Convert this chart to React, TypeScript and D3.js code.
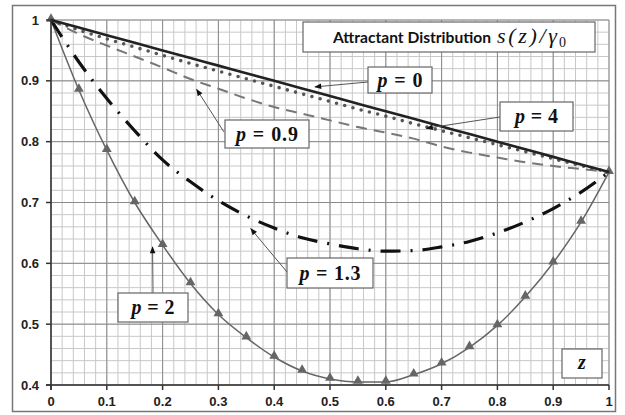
import React from "react";
import * as d3 from "d3";

// ---- data ----
const Z = [0, 0.05, 0.1, 0.15, 0.2, 0.25, 0.3, 0.35, 0.4, 0.45, 0.5, 0.55, 0.6, 0.65, 0.7, 0.75, 0.8, 0.85, 0.9, 0.95, 1];
const P0 = [1, 0.9875, 0.975, 0.9625, 0.95, 0.9375, 0.925, 0.9125, 0.9, 0.8875, 0.875, 0.8625, 0.85, 0.8375, 0.825, 0.8125, 0.8, 0.7875, 0.775, 0.7625, 0.75];
const P4 = [1, 0.9835, 0.969, 0.9555, 0.942, 0.9285, 0.916, 0.9035, 0.891, 0.8785, 0.866, 0.8535, 0.842, 0.8295, 0.818, 0.8065, 0.795, 0.7835, 0.772, 0.7605, 0.75];
const P09 = [1, 0.977, 0.958, 0.94, 0.922, 0.903, 0.887, 0.871, 0.857, 0.846, 0.835, 0.824, 0.815, 0.805, 0.792, 0.782, 0.774, 0.766, 0.76, 0.755, 0.75];
const P13 = [1, 0.931, 0.871, 0.818, 0.77, 0.734, 0.703, 0.678, 0.658, 0.642, 0.632, 0.624, 0.62, 0.621, 0.627, 0.636, 0.65, 0.668, 0.69, 0.717, 0.75];
const P2 = [1, 0.885, 0.786, 0.7, 0.63, 0.567, 0.516, 0.478, 0.446, 0.423, 0.41, 0.405, 0.405, 0.417, 0.435, 0.462, 0.498, 0.545, 0.601, 0.668, 0.75];

const X_TICKS = [0, 0.1, 0.2, 0.3, 0.4, 0.5, 0.6, 0.7, 0.8, 0.9, 1];
const Y_TICKS = [0.4, 0.5, 0.6, 0.7, 0.8, 0.9, 1];
const X_LABELS = ["0", "0.1", "0.2", "0.3", "0.4", "0.5", "0.6", "0.7", "0.8", "0.9", "1"];
const Y_LABELS = ["0.4", "0.5", "0.6", "0.7", "0.8", "0.9", "1"];

const LABELS = ["0", "4", "0.9", "1.3", "2"];
// arrow tips in data coordinates [z, s]
const TIPS: [number, number][] = [
  [0.473, 0.89],
  [0.673, 0.822],
  [0.261, 0.886],
  [0.358, 0.657],
  [0.182, 0.627],
];

// ---- layout ----
const W = 625, H = 415;
const X0 = 51, X1 = 609, Y0 = 385, Y1 = 20;
const BOXES = [
  { x: 368, y: 67, w: 64, h: 26, from: [368, 82], tl: 45 },
  { x: 500, y: 102, w: 73, h: 29, from: [500, 117], tl: 43 },
  { x: 225, y: 120, w: 84, h: 28, from: [224, 132], tl: 62 },
  { x: 287, y: 258, w: 86, h: 30, from: [287, 272], tl: 61 },
  { x: 118, y: 293, w: 70, h: 29, from: [153, 293], tl: 43 },
];

export default function App() {
  const x = d3.scaleLinear().domain([0, 1]).range([X0, X1]);
  const y = d3.scaleLinear().domain([0.4, 1]).range([Y0, Y1]);
  const minorX = d3.range(0, 1.0001, 0.02);
  const minorY = d3.range(0.4, 1.0001, 0.02);

  const line = (vals: number[]) =>
    d3
      .line<number>()
      .x((_, i) => x(Z[i]))
      .y((d) => y(d))
      .curve(d3.curveMonotoneX)(vals) as string;

  const tri = d3.symbol().type(d3.symbolTriangle).size(42)() as string;
  const serif = "'Liberation Serif', 'DejaVu Serif', serif";
  const sans = "'Liberation Sans', Arial, sans-serif";

  return (
    <svg width={W} height={H} style={{ position: "absolute", left: 0, top: 0, background: "#fff" }}>
      <defs>
        <marker id="ah" viewBox="0 0 10 10" refX="9" refY="5" markerWidth="8" markerHeight="7" orient="auto" markerUnits="userSpaceOnUse">
          <path d="M0,1 L10,5 L0,9 Z" fill="#111" />
        </marker>
      </defs>
      <rect x={12.5} y={5.5} width={603} height={406} fill="#fff" stroke="#777" strokeWidth={1.5} />

      {/* minor grid */}
      {minorX.map((v, i) => (
        <line key={"mx" + i} x1={x(v)} x2={x(v)} y1={Y1} y2={Y0} stroke="#c8c8c8" strokeWidth={1} />
      ))}
      {minorY.map((v, i) => (
        <line key={"my" + i} x1={X0} x2={X1} y1={y(v)} y2={y(v)} stroke="#c8c8c8" strokeWidth={1} />
      ))}
      {/* major grid */}
      {X_TICKS.map((v, i) => (
        <line key={"Mx" + i} x1={x(v)} x2={x(v)} y1={Y1} y2={Y0} stroke="#8a8a8a" strokeWidth={1} />
      ))}
      {Y_TICKS.map((v, i) => (
        <line key={"My" + i} x1={X0} x2={X1} y1={y(v)} y2={y(v)} stroke="#8a8a8a" strokeWidth={1} />
      ))}

      {/* curves */}
      <path d={line(P2)} fill="none" stroke="#666" strokeWidth={1.5} />
      {P2.map((v, i) => (
        <path key={"t" + i} d={tri} transform={`translate(${x(Z[i])},${y(v) - 1})`} fill="#666" />
      ))}
      <path d={line(P13)} fill="none" stroke="#111" strokeWidth={3.2} strokeDasharray="20 10 2 10" />
      <path d={line(P09)} fill="none" stroke="#777" strokeWidth={2} strokeDasharray="11 7" />
      <path d={line(P4)} fill="none" stroke="#555" strokeWidth={3.6} strokeDasharray="0 8.5" strokeLinecap="round" />
      <path d={line(P0)} fill="none" stroke="#222" strokeWidth={2.6} />

      {/* axes */}
      <line x1={X0} x2={X0} y1={Y1} y2={Y0 + 5} stroke="#333" strokeWidth={1.5} />
      <line x1={X0 - 5} x2={X1} y1={Y0} y2={Y0} stroke="#333" strokeWidth={1.5} />
      {X_TICKS.map((v, i) => (
        <g key={"xt" + i}>
          <line x1={x(v)} x2={x(v)} y1={Y0} y2={Y0 + 5} stroke="#333" strokeWidth={1.5} />
          <text x={x(v)} y={406} textAnchor="middle" fontFamily={sans} fontWeight="bold" fontSize={13} fill="#222">
            {X_LABELS[i]}
          </text>
        </g>
      ))}
      {Y_TICKS.map((v, i) => (
        <g key={"yt" + i}>
          <line x1={X0 - 5} x2={X0} y1={y(v)} y2={y(v)} stroke="#333" strokeWidth={1.5} />
          <text x={39} y={y(v) + 4.5} textAnchor="end" fontFamily={sans} fontWeight="bold" fontSize={13} fill="#222">
            {Y_LABELS[i]}
          </text>
        </g>
      ))}

      {/* title */}
      <rect x={303} y={22} width={292} height={30} fill="#fff" stroke="#666" strokeWidth={1.2} />
      <text x={333} y={43} fontFamily="Lato, 'Open Sans', sans-serif" fontWeight="bold" fontSize={15.5} fill="#111" textLength={158} lengthAdjust="spacingAndGlyphs">
        Attractant Distribution
      </text>
      <text x={497} y={43} fontFamily={serif} fontStyle="italic" fontSize={22} fill="#111" textLength={60} lengthAdjust="spacing">
        s(z)/γ
      </text>
      <text x={559} y={47} fontFamily={serif} fontSize={14} fill="#111">
        0
      </text>

      {/* labels & arrows */}
      {BOXES.map((b, i) => (
        <g key={"lb" + i}>
          <line x1={b.from[0]} y1={b.from[1]} x2={x(TIPS[i][0])} y2={y(TIPS[i][1])} stroke="#555" strokeWidth={1} markerEnd="url(#ah)" />
          <rect x={b.x} y={b.y} width={b.w} height={b.h} fill="#fff" stroke="#666" strokeWidth={1.2} />
          <text x={b.x + b.w / 2} y={b.y + b.h / 2 + 6.5} textAnchor="middle" fontFamily={serif} fontWeight="bold" fontSize={20} fill="#111" textLength={b.tl} lengthAdjust="spacing">
            <tspan fontStyle="italic">p</tspan>
            <tspan>{" = " + LABELS[i]}</tspan>
          </text>
        </g>
      ))}
      <rect x={562} y={349} width={40} height={29} fill="#fff" stroke="#666" strokeWidth={1.2} />
      <text x={582} y={369} textAnchor="middle" fontFamily={serif} fontWeight="bold" fontStyle="italic" fontSize={20} fill="#111">
        z
      </text>
    </svg>
  );
}
